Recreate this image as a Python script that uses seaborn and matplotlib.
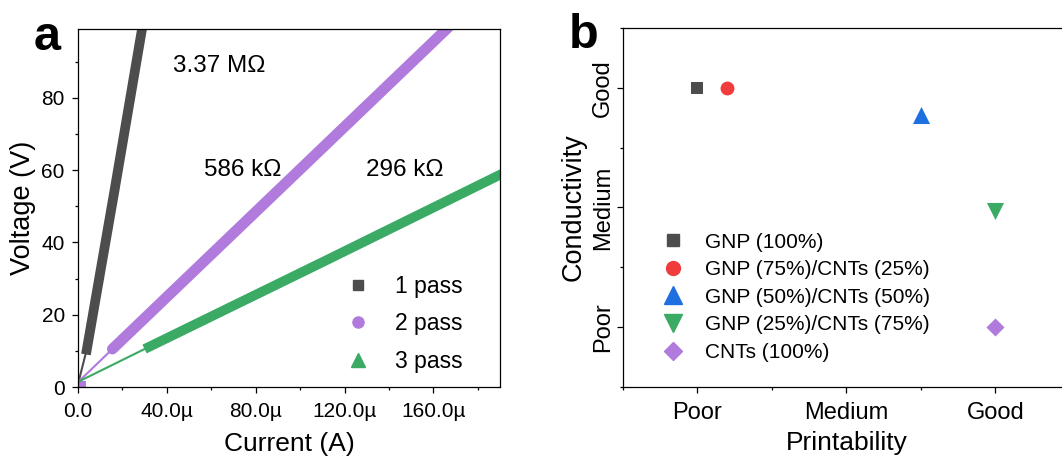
import matplotlib
matplotlib.use('Agg')
import matplotlib.pyplot as plt
import matplotlib.ticker as mticker
from matplotlib.lines import Line2D
import seaborn as sns

# ---- panel a: I-V sweeps (current in A, voltage in V), read along each band
pass1_current = [3.6e-6, 16.5e-6, 29.4e-6]
pass1_voltage = [9.0, 54.5, 101.0]
pass2_current = [15.5e-6, 90e-6, 168e-6]
pass2_voltage = [10.5, 54.3, 100.2]
pass3_current = [30e-6, 110e-6, 192e-6]
pass3_voltage = [10.5, 34.5, 59.3]

# linear fits drawn down towards the origin
fit1_current = [0.3e-6, 3.6e-6]
fit1_voltage = [1.5, 9.5]
fit2_current = [0.3e-6, 15.5e-6]
fit2_voltage = [1.5, 10.5]
fit3_current = [0.3e-6, 30e-6]
fit3_voltage = [1.5, 10.5]

# lone first point of the 2 pass sweep
pass2_first_current = [1.8e-6]
pass2_first_voltage = [0.6]

pass_labels = ['1 pass', '2 pass', '3 pass']
resistances = ['3.37 MΩ', '586 kΩ', '296 kΩ']

# ---- panel b: printability vs conductivity (1 = Poor, 2 = Medium, 3 = Good)
inks = ['GNP (100%)', 'GNP (75%)/CNTs (25%)', 'GNP (50%)/CNTs (50%)',
        'GNP (25%)/CNTs (75%)', 'CNTs (100%)']
printability = [1.0, 1.2, 2.5, 3.0, 3.0]
conductivity = [3.0, 3.0, 2.77, 1.97, 1.0]
levels = ['Poor', 'Medium', 'Good']

GRAY = '#4d4d4d'
PURPLE = '#b07bdc'
GREEN = '#3aaa64'
RED = '#f03c3c'
BLUE = '#1e6fe0'

sns.set_style('ticks')
plt.rcParams['font.family'] = ['Liberation Sans', 'DejaVu Sans']
plt.rcParams['axes.edgecolor'] = 'black'
plt.rcParams['axes.linewidth'] = 0.9
plt.rcParams['text.color'] = 'black'
plt.rcParams['axes.labelcolor'] = 'black'
plt.rcParams['xtick.color'] = 'black'
plt.rcParams['ytick.color'] = 'black'

fig = plt.figure(figsize=(10.62, 4.58), dpi=100)
ax1 = fig.add_axes([0.0734, 0.155, 0.3974, 0.7817])
ax2 = fig.add_axes([0.5866, 0.155, 0.4209, 0.7839])

# ---------------- panel a
sns.lineplot(x=fit1_current, y=fit1_voltage, color=GRAY, linewidth=1.5, ax=ax1, estimator=None)
sns.lineplot(x=fit2_current, y=fit2_voltage, color=PURPLE, linewidth=1.5, ax=ax1, estimator=None)
sns.lineplot(x=fit3_current, y=fit3_voltage, color=GREEN, linewidth=1.5, ax=ax1, estimator=None)
sns.lineplot(x=pass1_current, y=pass1_voltage, color=GRAY, linewidth=7.0, ax=ax1,
             estimator=None, solid_capstyle='butt')
sns.lineplot(x=pass2_current, y=pass2_voltage, color=PURPLE, linewidth=7.8, ax=ax1,
             estimator=None, solid_capstyle='round')
sns.lineplot(x=pass3_current, y=pass3_voltage, color=GREEN, linewidth=7.0, ax=ax1,
             estimator=None, solid_capstyle='butt')
sns.scatterplot(x=pass2_first_current, y=pass2_first_voltage, color=PURPLE, marker='s',
                s=40, linewidth=0, ax=ax1)

ax1.set_xlim(0, 190e-6)
ax1.set_ylim(0, 99)
ax1.xaxis.set_major_locator(mticker.MultipleLocator(40e-6))
ax1.xaxis.set_minor_locator(mticker.MultipleLocator(20e-6))
ax1.yaxis.set_major_locator(mticker.MultipleLocator(20))
ax1.yaxis.set_minor_locator(mticker.MultipleLocator(10))
ax1.xaxis.set_major_formatter(mticker.FuncFormatter(
    lambda v, p: '0.0' if abs(v) < 1e-12 else f'{v * 1e6:.1f}µ'))
ax1.tick_params(which='major', direction='out', length=4.5, width=0.9, labelsize=15)
ax1.tick_params(axis='x', which='major', pad=6.5)
ax1.tick_params(axis='y', which='major', pad=5)
ax1.tick_params(which='minor', direction='out', length=2.5, width=0.9)
ax1.set_xlabel('Current (A)', fontsize=19, labelpad=8)
ax1.set_ylabel('Voltage (V)', fontsize=19.5, labelpad=4)
for s in ['top', 'right']:
    ax1.spines[s].set_visible(True)

ax1.text(42.7e-6, 87.2, resistances[0], fontsize=17.5)
ax1.text(56.6e-6, 58.4, resistances[1], fontsize=17.5)
ax1.text(129.9e-6, 58.4, resistances[2], fontsize=17.5)

h1 = [Line2D([], [], linestyle='none', marker='s', markersize=7.2, color=GRAY),
      Line2D([], [], linestyle='none', marker='o', markersize=8, color=PURPLE),
      Line2D([], [], linestyle='none', marker='^', markersize=9.4, color=GREEN)]
ax1.legend(h1, pass_labels, loc='upper left', bbox_to_anchor=(0.636, 0.314), frameon=False,
           fontsize=16.5, handlelength=1.0, handletextpad=1.12, labelspacing=0.64,
           borderpad=0, borderaxespad=0)

ax1.text(-0.073, 0.941, 'a', transform=ax1.transAxes, fontsize=35, fontweight='bold',
         va='baseline', ha='center')

# ---------------- panel b
colors = [GRAY, RED, BLUE, GREEN, PURPLE]
markers = ['s', 'o', '^', 'v', 'D']
msizes = [9.0, 10.0, 12.3, 12.3, 9.2]
for i in range(len(inks)):
    sns.scatterplot(x=[printability[i]], y=[conductivity[i]], color=colors[i], marker=markers[i],
                    s=msizes[i] ** 2, linewidth=0, ax=ax2)

ax2.set_xlim(0.5, 3.5)
ax2.set_ylim(0.5, 3.5)
ax2.set_xticks([1, 2, 3])
ax2.set_xticklabels(levels)
ax2.set_yticks([1, 2, 3])
ax2.set_yticklabels(levels, rotation=90, va='center')
ax2.xaxis.set_minor_locator(mticker.FixedLocator([0.5, 1.5, 2.5, 3.5]))
ax2.yaxis.set_minor_locator(mticker.FixedLocator([0.5, 1.5, 2.5, 3.5]))
ax2.tick_params(which='major', direction='out', length=4.5, width=0.9, labelsize=17)
ax2.tick_params(axis='x', which='major', pad=6.5)
ax2.tick_params(axis='y', which='major', pad=2)
ax2.tick_params(which='minor', direction='out', length=2.5, width=0.9)
ax2.set_xlabel('Printability', fontsize=19, labelpad=5)
ax2.set_ylabel('Conductivity', fontsize=19.5, labelpad=4)
ax2.spines['top'].set_visible(True)
ax2.spines['right'].set_visible(False)

h2 = [Line2D([], [], linestyle='none', marker=m, markersize=ms, color=c)
      for m, ms, c in zip(markers, msizes, colors)]
ax2.legend(h2, inks, loc='upper left', bbox_to_anchor=(0.0886, 0.43), frameon=False,
           fontsize=15, handlelength=1.0, handletextpad=1.04, labelspacing=0.41,
           borderpad=0, borderaxespad=0)

ax2.text(-0.088, 0.944, 'b', transform=ax2.transAxes, fontsize=35, fontweight='bold',
         va='baseline', ha='center')

fig.savefig('out.png', dpi=100)
